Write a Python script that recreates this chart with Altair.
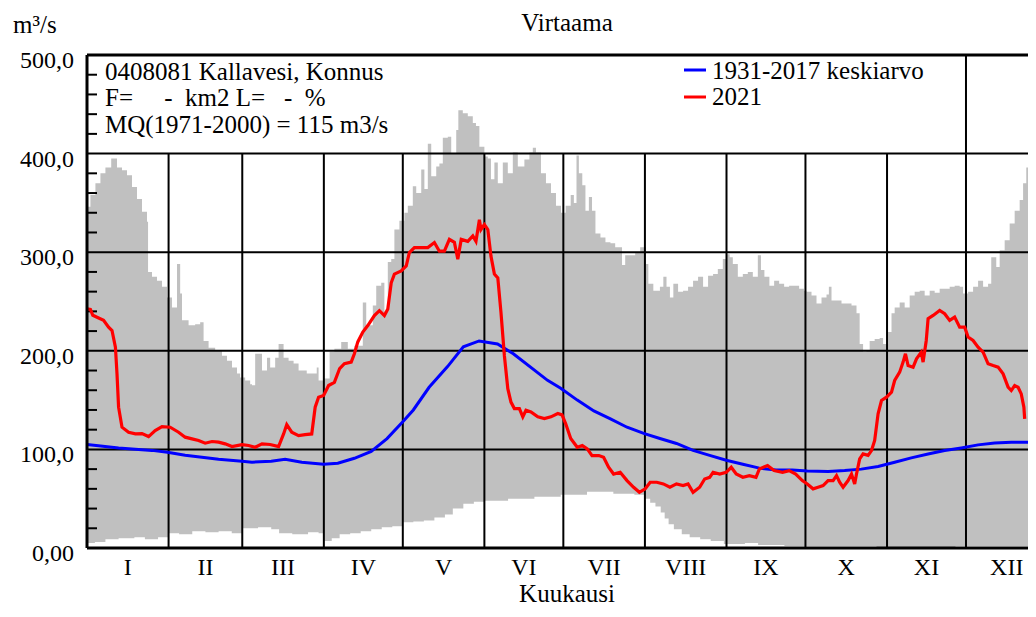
import altair as alt
import pandas as pd

FONT = "Liberation Serif"
FS = 25

# ---------------- data ----------------
MONTHS = ["I", "II", "III", "IV", "V", "VI", "VII", "VIII", "IX", "X", "XI", "XII"]
MONTH_START = [0, 31, 59, 90, 120, 151, 181, 212, 243, 273, 304, 334, 365]

Y_TICKS = [0, 100, 200, 300, 400, 500]
Y_LABELS = ["0,00", "100,0", "200,0", "300,0", "400,0", "500,0"]
MINOR_TICKS = [20, 40, 60, 80, 120, 140, 160, 180, 220, 240, 260, 280,
               320, 340, 360, 380, 420, 440, 460, 480]

# daily maximum envelope (grey band top)
MAX_DAY = [0, 1.3, 3.2, 5.1, 7, 9.2, 11.4, 13.3, 15.2, 17.1, 19, 20.9, 22.8, 23.2, 24.7,
           26.6, 28.5, 30.4, 32.3, 34.2, 35.4, 36.1, 38.6, 41.1, 43, 44.3, 46.2, 48.7,
           51.3, 53.2, 55.1, 57, 58.2, 60.1, 62, 62.7, 63.9, 66.5, 68.4, 69.6, 71.5, 72.8,
           74.7, 76.6, 78.5, 80.4, 83.5, 87.3, 88, 89.9, 92.2, 94, 96.6, 99.1, 101.6,
           104.8, 106.1, 108.6, 109.9, 111.8, 113, 114.3, 115.6, 116.8, 118.7, 120.6,
           121.9, 123.8, 125.1, 127, 128.2, 129.5, 130.8, 132.7, 133.9, 135.2, 137.1,
           138.4, 140.3, 141.1, 142.8, 144.7, 146.6, 147.8, 149.1, 151, 152.3, 153.5,
           154.8, 156.1, 158, 159.9, 161.8, 163.7, 166.2, 168.1, 169.4, 170.6, 172.5,
           174.4, 176.3, 178.2, 180.1, 181.9, 183.8, 185, 186, 186.9, 188.2, 189.4,
           190.7, 191.9, 193.2, 195.1, 197, 198.9, 200.7, 203.3, 204.5, 206.4, 208.3,
           210.2, 212.4, 213.3, 215.2, 217.7, 219, 220.2, 221.5, 222.8, 224.6, 226.5,
           228.4, 230.3, 232.2, 234.1, 236, 237.9, 239.7, 241.6, 242.9, 244.2, 245.4,
           247.3, 249.2, 251.1, 253, 254.9, 256.1, 257.4, 259.3, 261.1, 263, 264.9,
           266.8, 268.7, 270.6, 272.4, 273.4, 275.3, 277.2, 279.1, 281, 281.9, 282.9,
           284.8, 286.7, 288.6, 290.5, 292.4, 293.6, 294.9, 296.2, 297.4, 299.3, 301.2,
           302.5, 304.4, 305.7, 306.9, 308.8, 310.7, 312.6, 314.5, 316.4, 318.3, 320.2,
           322.1, 324, 325.9, 327.8, 329.7, 331.6, 332.9, 334.8, 336.7, 338.6, 340.5,
           342.4, 343.6, 345.5, 346.8, 348.7, 350.6, 352.5, 354.4, 355.7, 356.9, 358.2,
           359.5, 360.5, 365]
MAX_Q = [346, 358, 370, 380, 386, 395, 386, 383, 378, 366, 354, 341, 331, 280, 275,
         271, 265, 254, 244, 288, 258, 231, 226, 227, 229, 210, 203, 200,
         195, 190, 183, 177, 173, 170, 166, 165, 197, 180, 193, 183, 193, 207,
         193, 190, 187, 180, 177, 183, 170, 172, 199, 202, 209, 202, 205,
         249, 226, 246, 266, 269, 240, 290, 293, 323, 332, 340,
         347, 367, 360, 384, 364, 410, 377, 387, 390, 416, 417,
         400, 424, 444, 441, 438, 431, 428, 407, 397, 395, 374,
         391, 370, 391, 380, 401, 387, 394, 401, 406, 401, 380,
         370, 360, 347, 340, 347, 358, 350, 398, 380, 368, 342,
         356, 342, 319, 315, 310, 309, 305, 287, 297, 297, 300,
         305, 288, 268, 261, 265, 275, 265, 254, 268, 260, 261,
         265, 271, 275, 265, 276, 278, 283, 293, 298, 295, 288,
         275, 278, 280, 275, 297, 282, 275, 266, 271, 268, 265,
         266, 266, 263, 261, 260, 256, 248, 254, 257, 265, 251,
         251, 248, 248, 246, 238, 207, 199, 200, 210, 212, 213,
         207, 219, 238, 244, 249, 244, 256, 260, 261, 256, 261,
         259, 263, 263, 265, 266, 265, 258, 260, 265, 271, 265,
         268, 295, 285, 302, 312, 329, 342, 353, 370, 386, 354,
         332, 325, 320]

# daily minimum envelope (grey band bottom)
MIN_DAY = [0, 3, 7, 12, 18, 22, 27, 31, 35, 40, 45, 50, 55, 59, 65, 70, 73, 78, 84, 88,
           90, 93, 96, 100, 104, 108, 112, 116, 120, 124, 128, 132, 136, 139, 143, 147,
           151, 160, 170, 180, 190, 200, 208, 212, 214, 216, 218, 219.5, 221, 223, 226,
           229, 233, 237, 242, 250, 255, 265, 280, 300, 330, 365]
MIN_Q = [5, 6, 9, 10, 11, 9, 11, 15, 14, 17, 16, 17, 15, 20, 21, 19, 15, 14, 16, 15,
         7, 10, 14, 15, 17, 19, 21, 22, 26, 27, 28, 31, 34, 40, 45, 47,
         48, 50, 52, 54, 57, 55, 54, 50, 46, 42, 36, 30, 24, 19, 14,
         11, 9, 7, 4, 5, 3, 2, 2, 1, 2, 2]

# 1931-2017 mean
MEAN_DAY = [0, 12, 24.7, 30.6, 37.3, 50, 58.9, 62.7, 70, 75.3, 81.6, 89.9, 95.3, 101.6,
            108, 114, 120, 124, 130, 137, 143, 149, 156, 162, 175, 180, 186.3, 192.6,
            198.9, 205.2, 211.8, 217.7, 224, 230.3, 236.6, 242.9, 249.2, 255.5, 261.8,
            268, 273.7, 281.6, 287.9, 294.2, 300.6, 306.9, 313.2, 319.6, 325.9, 332.2,
            338.6, 344.9, 351.2, 357.6, 365]
MEAN_Q = [105, 101.5, 99, 97, 94, 90, 88, 87, 88, 90, 87, 85, 86, 91,
          98, 111, 128, 140, 163, 184, 204, 210, 207, 197, 170, 162, 150, 139,
          131, 122.5, 116, 111, 106, 99, 94, 89, 85, 81, 79,
          79, 78, 77.5, 78.5, 80, 82.6, 87, 91.4, 95.4, 98.8, 101.5,
          104.6, 106.6, 107.3, 107.3, 107.5]

# 2021
Q21_DAY = [0, 1.3, 2.2, 3.8, 6.3, 8.2, 9.5, 10.8, 11.4, 12, 13.3, 15.8, 18.4, 20.9, 23.4,
           25.9, 28.5, 31.6, 34.8, 37.3, 39.9, 42.4, 44.9, 47.5, 50, 52.5, 55.1, 58.9,
           61.4, 63.9, 66.5, 69.6, 72.8, 74.7, 75.9, 77.8, 80.4, 82.9, 85.4, 86.7, 88,
           89.9, 91.8, 94, 96, 97.8, 100.4, 101.6, 102.9, 104.8, 106.7, 109.2, 111.1,
           113, 114.3, 115.6, 116.8, 119.4, 121.3, 122.5, 124.4, 127, 129.5, 132, 133.9,
           135.8, 137.7, 139.6, 140.9, 142.2, 144.7, 146.6, 147.8, 149.1, 149.7, 151,
           152.3, 153.5, 154.8, 156.1, 157.3, 158.6, 159.9, 161.1, 162.4, 164.3, 165.6,
           166.8, 168.7, 171.3, 173.8, 176.3, 178.9, 180.5, 181.9, 183.8, 186.3, 188.2,
           190.1, 191.9, 194.5, 196.3, 198.2, 200.1, 202.6, 205.2, 207.7, 209.9, 212.1,
           214, 216.5, 219, 221.5, 224, 226.5, 228.4, 230.3, 232.8, 234.7, 236.6, 237.9,
           240.4, 242.9, 244.8, 246.7, 249.2, 251.7, 254.2, 255.5, 258.6, 261.1, 264.3,
           266.8, 269.3, 271.8, 273.7, 275.9, 277.8, 279.7, 281.6, 283.5, 284.8, 286,
           287.3, 289.2, 290.5, 291.7, 292.4, 293.6, 294.9, 296.8, 298.1, 299.3, 300.6,
           301.9, 303.8, 305.7, 306.9, 308.8, 310.1, 311, 312, 313.9, 315.2, 317, 317.7,
           318.9, 319.6, 321.5, 324, 325.9, 327.8, 329.7, 331.6, 333.5, 334.8, 336.7,
           338.6, 340.5, 342.4, 344.3, 346.2, 348.1, 350, 351.2, 352.5, 353.8, 355, 356,
           356.3]
Q21_Q = [242.6, 242, 236, 234, 231, 224, 220.6, 203.7, 176.6, 142.8, 122.5, 117.4, 115.7, 116, 113,
         119, 123, 122.5, 117.4, 112.4, 110.7, 109, 106.3, 108, 107.3, 105.6, 102.9, 104.9,
         104, 102.2, 105.6, 105, 102.9, 115.7, 125.2, 117.4, 114, 115, 115.7, 142.8, 153,
         154.7, 164.8, 168, 182, 187, 188.6, 197, 209, 219, 225.6, 235.7, 240.7,
         235.7, 242.4, 269, 277.8, 281, 286, 299.7, 304.7, 304.7, 304.7, 309.8, 301,
         301, 313, 310, 293, 313, 311, 316.5, 311, 333, 323, 328,
         323, 296, 277.8, 274, 239, 195, 161.6, 148, 141.4, 141.4, 133,
         139.7, 138, 133, 131.3, 133, 136.4, 135, 126, 111, 102.2, 104,
         100.5, 93.7, 93.7, 92, 81.9, 75, 76.8, 68.4, 61.6, 56.5, 60,
         66.7, 66.7, 65, 61.6, 65, 63.3, 65, 56.5, 61.6, 70, 71.7, 76.8,
         75, 76.8, 81.9, 75, 71.7, 73.4, 71.7, 80.2, 83.6, 78.5, 76.8,
         78.5, 75, 68.4, 65, 60, 61.6, 63.3, 68.4, 68.4, 73.4, 66.7,
         61.6, 68.4, 75, 65, 75, 90.4, 95.4, 94, 98.8, 109, 136,
         149.6, 153, 158, 169.9, 178.3, 188.5, 197, 185, 183.4, 191.9, 198.6, 188.5,
         210.5, 232.5, 235.9, 241, 237.6, 230.8, 234.2, 224, 224, 213.9, 210.5,
         203.7, 198.6, 186.8, 185, 183.4, 176.6, 163.1, 159.7, 164.8, 163, 156.3, 142.8,
         131]

BOX_LINES = ["0408081 Kallavesi, Konnus",
             "F=\u00a0\u00a0\u00a0\u00a0\u00a0-\u00a0\u00a0km2 L=\u00a0\u00a0\u00a0-\u00a0\u00a0%",
             "MQ(1971-2000) = 115 m3/s"]
LEGEND_NAMES = ["1931-2017 keskiarvo", "2021"]
LEGEND_COLORS = ["#0000ff", "#ff0000"]

# ---------------- layout ----------------
PX_PER_DAY = 2.6317
W, H = 941, 493
X_END = W / PX_PER_DAY
xs = alt.Scale(domain=[0, X_END], nice=False, zero=False)
ys = alt.Scale(domain=[0, 500], nice=False, zero=False)

df_max = pd.DataFrame({"day": MAX_DAY, "q": MAX_Q})
df_min = pd.DataFrame({"day": MIN_DAY, "q": MIN_Q})
df_mean = pd.DataFrame({"day": MEAN_DAY, "q": MEAN_Q})
df_21 = pd.DataFrame({"day": Q21_DAY, "q": Q21_Q})

X = lambda: alt.X("day:Q", scale=xs, axis=None)
Y = lambda: alt.Y("q:Q", scale=ys, axis=None)

upper = alt.Chart(df_max).mark_area(color="#c0c0c0", interpolate="step-after", clip=True).encode(x=X(), y=Y())
lower = alt.Chart(df_min).mark_area(color="#ffffff", interpolate="step-after", clip=True).encode(x=X(), y=Y())

hgrid = alt.Chart(pd.DataFrame({"q": [100, 200, 300, 400]})).mark_rule(
    color="black", strokeWidth=2).encode(y=Y(), x=alt.value(0), x2=alt.value(W))

vdf = pd.DataFrame({"day": MONTH_START[1:12],
                    "lo": [0] * 11,
                    "hi": [400] * 10 + [500]})
vgrid = alt.Chart(vdf).mark_rule(color="black", strokeWidth=2).encode(
    x=X(), y=alt.Y("lo:Q", scale=ys, axis=None), y2="hi:Q")

minor = alt.Chart(pd.DataFrame({"q": MINOR_TICKS})).mark_rule(
    color="black", strokeWidth=2).encode(y=Y(), x=alt.value(0), x2=alt.value(10))

frame_h = alt.Chart(pd.DataFrame({"q": [0, 500]})).mark_rule(
    color="black", strokeWidth=3).encode(y=Y(), x=alt.value(0), x2=alt.value(W))
frame_v = alt.Chart(pd.DataFrame({"day": [0], "lo": [0], "hi": [500]})).mark_rule(
    color="black", strokeWidth=3).encode(x=X(), y=alt.Y("lo:Q", scale=ys, axis=None), y2="hi:Q")

mean_line = alt.Chart(df_mean).mark_line(color="#0000ff", strokeWidth=3, clip=True).encode(x=X(), y=Y())
line21 = alt.Chart(df_21).mark_line(color="#ff0000", strokeWidth=3.2, clip=True).encode(x=X(), y=Y())

# axis labels
ylab = alt.Chart(pd.DataFrame({"q": Y_TICKS, "t": Y_LABELS})).mark_text(
    font=FONT, fontSize=FS - 1, align="right", baseline="alphabetic", dy=13, color="black").encode(
    y=Y(), x=alt.value(-13), text="t:N")

mid = [(MONTH_START[i] + MONTH_START[i + 1]) / 2 for i in range(12)]
xlab = alt.Chart(pd.DataFrame({"day": mid, "t": MONTHS})).mark_text(
    font=FONT, fontSize=FS - 1, align="center", baseline="alphabetic", color="black").encode(
    x=X(), y=alt.value(H + 27), text="t:N")

one = pd.DataFrame({"a": [0]})


def label(txt, x, y, align="left", size=FS):
    return alt.Chart(one).mark_text(font=FONT, fontSize=size, align=align, baseline="alphabetic",
                                    color="black", text=txt).encode(x=alt.value(x), y=alt.value(y))


texts = [
    label("Virtaama", 480, -24, "center"),
    label("m\u00b3/s", -74, -22),
    label("Kuukausi", 480, 547, "center"),
    label(BOX_LINES[0], 18, 25),
    label(BOX_LINES[1], 18, 51),
    label(BOX_LINES[2], 18, 77.5),
    label(LEGEND_NAMES[0], 625, 24),
    label(LEGEND_NAMES[1], 625, 50),
]

leg_lines = [
    alt.Chart(one).mark_rule(color=LEGEND_COLORS[0], strokeWidth=3).encode(
        x=alt.value(597), x2=alt.value(619), y=alt.value(15)),
    alt.Chart(one).mark_rule(color=LEGEND_COLORS[1], strokeWidth=3).encode(
        x=alt.value(597), x2=alt.value(619), y=alt.value(42)),
]

chart = alt.layer(
    upper, lower, hgrid, vgrid, minor, mean_line, line21, frame_h, frame_v,
    ylab, xlab, *texts, *leg_lines
).properties(
    width=W, height=H,
    autosize=alt.AutoSizeParams(type="none"),
    padding={"left": 79, "top": 47, "right": 0, "bottom": 61},
    background="white",
).configure_view(stroke=None)

chart.save("out.html", embed_options={"renderer": "svg", "actions": False})
